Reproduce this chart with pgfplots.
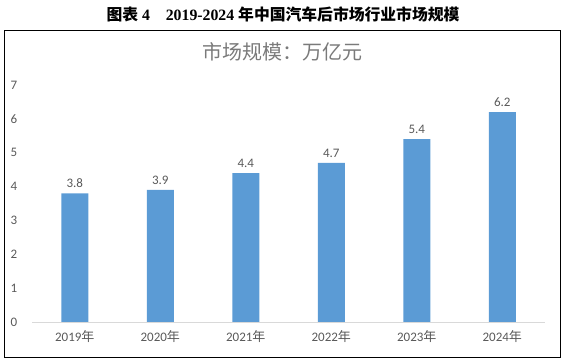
\documentclass[border=0pt]{standalone}
\usepackage{pgfplots}
\pgfplotsset{compat=1.18}
\usepackage{fontspec}
\setmainfont{Carlito}
\newfontfamily\cjk{Noto Sans CJK SC}
\newfontfamily\cjkb{Noto Sans CJK SC Bold}
\newfontfamily\tnr{Liberation Serif}
\definecolor{barblue}{HTML}{5B9BD5}
\definecolor{txtgray}{HTML}{595959}
\definecolor{ttlgray}{HTML}{7A7A7A}
\definecolor{gridgray}{HTML}{D9D9D9}
\begin{document}
\begin{tikzpicture}[x=1pt,y=1pt]
\path[use as bounding box] (-32,-42) rectangle (534,322);
\draw[black, line width=1pt] (-27,-36) rectangle (528,291);
\node[font=\fontsize{15.8}{18}\selectfont\bfseries] at (251,308) {{\cjkb 图表}{\tnr\bfseries\ 4\quad 2019-2024 }{\cjkb 年中国汽车后市场行业市场规模}};
\node[font=\fontsize{20}{23}\selectfont\cjk, text=ttlgray] at (251,270) {市场规模：万亿元};
\begin{axis}[
  at={(0,0)}, anchor=south west,
  scale only axis, width=513pt, height=237pt,
  xmin=-0.5, xmax=5.5, ymin=0, ymax=7,
  ybar, bar width=27pt,
  axis x line*=bottom, axis y line=none,
  axis line style={gridgray},
  ymajorgrids, grid style={gridgray, line width=0.8pt},
  ytick={0,...,7},
  xtick={0,...,5},
  xticklabels={2019{\cjk 年},2020{\cjk 年},2021{\cjk 年},2022{\cjk 年},2023{\cjk 年},2024{\cjk 年}},
  major tick length=0pt,
  xticklabel style={yshift=-5pt},
  tick label style={font=\fontsize{13}{15}\selectfont, text=txtgray},
  /pgf/number format/assume math mode=true,
  nodes near coords,
  nodes near coords style={font=\fontsize{13}{15}\selectfont, text=txtgray, yshift=2pt, /pgf/number format/.cd, fixed, fixed zerofill, precision=1},
  point meta=y,
  clip=false,
]
\addplot[fill=barblue, draw=none] coordinates {(0,3.8) (1,3.9) (2,4.4) (3,4.7) (4,5.4) (5,6.2)};
\end{axis}
\foreach \v in {0,...,7} {\node[font=\fontsize{13}{15}\selectfont, text=txtgray] at (-18,\v*33.857) {\v};}
\end{tikzpicture}
\end{document}
